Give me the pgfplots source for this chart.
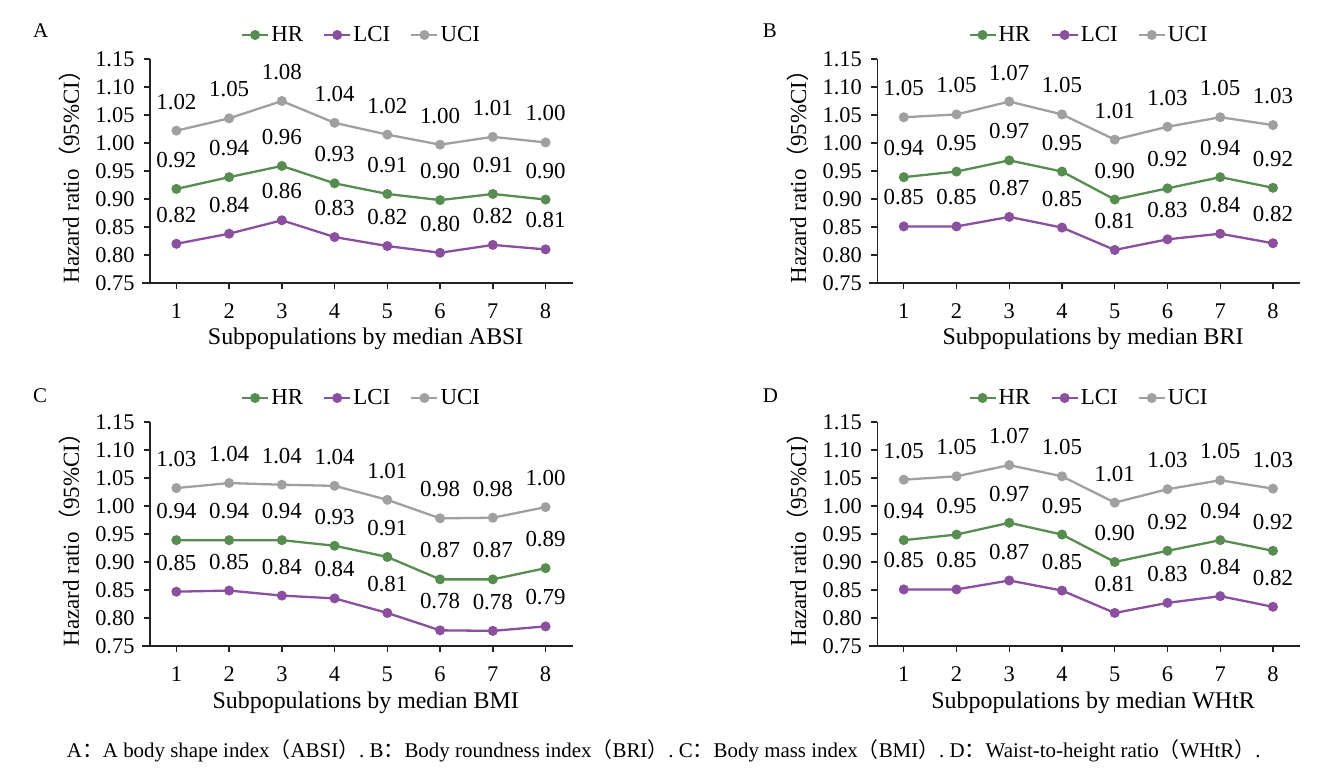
\documentclass[border=0pt]{standalone}
\usepackage{fontspec}
\setmainfont{Liberation Serif}
\newfontfamily\cjk{Noto Sans CJK SC}
\usepackage{pgfplots}
\pgfplotsset{compat=1.18}
\usepackage{pgfplotstable}

\definecolor{hrc}{RGB}{88,141,82}
\definecolor{lcic}{RGB}{138,79,158}
\definecolor{ucic}{RGB}{160,160,160}
\definecolor{axc}{RGB}{35,35,35}

\newcommand{\fs}{\fontsize{23}{26}\selectfont}
\newcommand{\ft}{\fontsize{22.5}{26}\selectfont}
\newcommand{\fl}{\fontsize{24}{27}\selectfont}

\pgfplotstableread{
x hr hrl lci lcil uci ucil
1 0.918 0.92 0.820 0.82 1.022 1.02
2 0.939 0.94 0.838 0.84 1.044 1.05
3 0.959 0.96 0.862 0.86 1.075 1.08
4 0.928 0.93 0.832 0.83 1.036 1.04
5 0.909 0.91 0.816 0.82 1.015 1.02
6 0.898 0.90 0.804 0.80 0.997 1.00
7 0.909 0.91 0.818 0.82 1.011 1.01
8 0.899 0.90 0.810 0.81 1.001 1.00
}\tabA

\pgfplotstableread{
x hr hrl lci lcil uci ucil
1 0.939 0.94 0.851 0.85 1.046 1.05
2 0.949 0.95 0.851 0.85 1.051 1.05
3 0.969 0.97 0.868 0.87 1.074 1.07
4 0.949 0.95 0.849 0.85 1.051 1.05
5 0.899 0.90 0.809 0.81 1.006 1.01
6 0.919 0.92 0.828 0.83 1.029 1.03
7 0.939 0.94 0.838 0.84 1.046 1.05
8 0.920 0.92 0.821 0.82 1.032 1.03
}\tabB

\pgfplotstableread{
x hr hrl lci lcil uci ucil
1 0.939 0.94 0.847 0.85 1.032 1.03
2 0.939 0.94 0.849 0.85 1.041 1.04
3 0.939 0.94 0.840 0.84 1.038 1.04
4 0.929 0.93 0.835 0.84 1.036 1.04
5 0.909 0.91 0.809 0.81 1.011 1.01
6 0.869 0.87 0.778 0.78 0.978 0.98
7 0.869 0.87 0.777 0.78 0.979 0.98
8 0.889 0.89 0.785 0.79 0.998 1.00
}\tabC

\pgfplotstableread{
x hr hrl lci lcil uci ucil
1 0.939 0.94 0.851 0.85 1.047 1.05
2 0.949 0.95 0.851 0.85 1.053 1.05
3 0.970 0.97 0.867 0.87 1.073 1.07
4 0.949 0.95 0.849 0.85 1.053 1.05
5 0.900 0.90 0.809 0.81 1.006 1.01
6 0.920 0.92 0.827 0.83 1.030 1.03
7 0.939 0.94 0.839 0.84 1.046 1.05
8 0.920 0.92 0.820 0.82 1.031 1.03
}\tabD

\pgfplotsset{
  panel/.style={
    scale only axis, width=423bp, height=224bp,
    anchor=south west,
    xmin=0.5, xmax=8.52, ymin=0.75, ymax=1.15,
    axis x line=bottom, axis y line=left,
    axis line style={-, line width=1.6bp, axc},
    x axis line style={shorten <=-8bp},
    xtick={1,2,3,4,5,6,7,8},
    xticklabels={1,2,3,4,5,6,7,8},
    ytick={0.75,0.80,0.85,0.90,0.95,1.00,1.05,1.10,1.15},
    yticklabels={0.75,0.80,0.85,0.90,0.95,1.00,1.05,1.10,1.15},
    tick align=outside, major tick length=6bp,
    tick style={line width=1.4bp, axc},
    ticklabel style={font=\ft, text=black},
    xticklabel style={yshift=-11bp},
    yticklabel style={xshift=-6bp},
    point meta=explicit symbolic,
    nodes near coords,
    every node near coord/.append style={font=\fs, text=black, inner sep=0pt, anchor=south, yshift=20bp},
    legend columns=3,
    legend style={draw=none, fill=none, at={(axis description cs:0.5,1)}, anchor=center, yshift=24bp, font=\fs,
      /tikz/every even column/.append style={column sep=18bp}},
    legend image code/.code={\draw[##1, mark repeat=2, mark phase=2] plot coordinates {(0bp,0bp) (13bp,0bp) (26bp,0bp)};},
    x label style={at={(axis description cs:0.51,0)}, anchor=base, yshift=-62bp, font=\fl},
    y label style={at={(axis description cs:-0.189,0.5)}, anchor=center, font=\fs},
    ylabel={Hazard ratio{\cjk （}95\%CI{\cjk ）}},
    clip=false,
  },
  hrs/.style={color=hrc, line width=2.3bp, mark=*, mark size=3.8bp, mark options={solid}},
  lcis/.style={color=lcic, line width=2.3bp, mark=*, mark size=3.8bp, mark options={solid}},
  ucis/.style={color=ucic, line width=2.3bp, mark=*, mark size=3.8bp, mark options={solid}},
}

\newcommand{\panelplots}[1]{%
  \addplot[hrs] table[x=x, y=hr, meta=hrl] {#1};
  \addlegendentry{HR}
  \addplot[lcis] table[x=x, y=lci, meta=lcil] {#1};
  \addlegendentry{LCI}
  \addplot[ucis] table[x=x, y=uci, meta=ucil] {#1};
  \addlegendentry{UCI}
}

\begin{document}
\begin{tikzpicture}
\useasboundingbox (0,0) rectangle (1330bp,773bp);

\begin{axis}[panel, at={(150bp,490bp)}, xlabel={Subpopulations by median ABSI}]
\panelplots{\tabA}
\end{axis}

\begin{axis}[panel, at={(877.4bp,490bp)}, xlabel={Subpopulations by median BRI}]
\panelplots{\tabB}
\end{axis}

\begin{axis}[panel, at={(150bp,127bp)}, xlabel={Subpopulations by median BMI}]
\panelplots{\tabC}
\end{axis}

\begin{axis}[panel, at={(877.4bp,127bp)}, xlabel={Subpopulations by median WHtR}]
\panelplots{\tabD}
\end{axis}

\node[anchor=base west, inner sep=0pt, font=\fontsize{21}{24}\selectfont] at (33bp,735bp) {A};
\node[anchor=base west, inner sep=0pt, font=\fontsize{21}{24}\selectfont] at (762.6bp,735bp) {B};
\node[anchor=base west, inner sep=0pt, font=\fontsize{21}{24}\selectfont] at (33bp,370.3bp) {C};
\node[anchor=base west, inner sep=0pt, font=\fontsize{21}{24}\selectfont] at (762.6bp,370.3bp) {D};

\node[anchor=base west, inner sep=0pt, font=\fontsize{21}{24}\selectfont] at (66.7bp,15.3bp)
 {A{\cjk ：}A body shape index{\cjk （}ABSI{\cjk ）}. B{\cjk ：}Body roundness index{\cjk （}BRI{\cjk ）}. C{\cjk ：}Body mass index{\cjk （}BMI{\cjk ）}. D{\cjk ：}Waist-to-height ratio{\cjk （}WHtR{\cjk ）}.};
\end{tikzpicture}
\end{document}
